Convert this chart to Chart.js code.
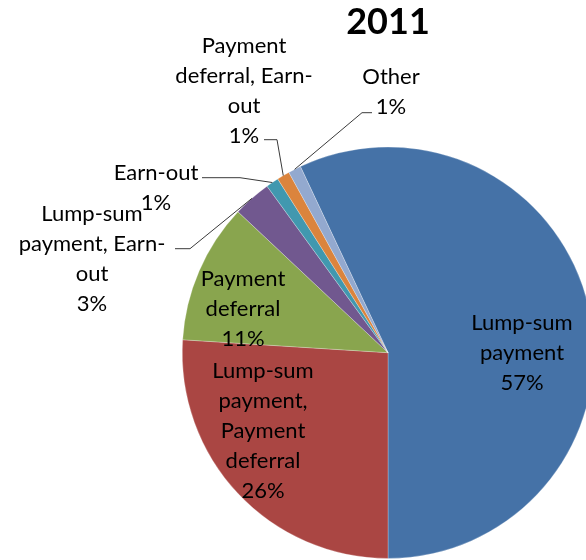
<!DOCTYPE html>
<html>
<head>
<meta charset="UTF-8">
<title>2011</title>
<script src="https://cdn.jsdelivr.net/npm/chart.js@4.4.0/dist/chart.umd.min.js"></script>
<style>
  body { margin: 0; overflow: hidden; background: #fff; }
  #wrap { position: absolute; left: 0; top: 0; width: 600px; height: 560px; }
</style>
</head>
<body>
<div id="wrap"><canvas id="myChart"></canvas></div>

<script>
	// deal structure shares, 2011 (percent)
	var categories = ["Lump-sum payment", "Lump-sum payment, Payment deferral", "Payment deferral",
		"Lump-sum payment, Earn-out", "Earn-out", "Payment deferral, Earn-out", "Other"];
	var shares = [57, 26, 11, 3, 1, 1, 1];
	// how each category name breaks over lines, the percent goes underneath
	var labelLines = [
		["Lump-sum", "payment"],
		["Lump-sum", "payment,", "Payment", "deferral"],
		["Payment", "deferral"],
		["Lump-sum", "payment, Earn-", "out"],
		["Earn-out"],
		["Payment", "deferral, Earn-", "out"],
		["Other"]
	];
	var sliceColors = ["#4572A7", "#AA4643", "#89A54E", "#71588F", "#4198AF", "#DB843D", "#93A9CF"];
</script>

<script>
	// label block centre relative to pie centre; small slices get a leader line
	// (x0 = where the line leaves the text, x1 = the bend, y = its height)
	var labelPos = [
		{dx: 134, dy: 0},
		{dx: -125, dy: 78},
		{dx: -145, dy: -44},
		{dx: -296, dy: -94, leader: {x0: -213, x1: -198, y: -104}},
		{dx: -232, dy: -165, leader: {x0: -186, x1: -148, y: -175}},
		{dx: -144, dy: -262, leader: {x0: -124, x1: -111, y: -213}},
		{dx: 3, dy: -261, leader: {x0: -16, x1: -26, y: -240}}
	];
	var lineH = 30;

	var sliceLabels = {
		id: 'sliceLabels',
		afterDatasetsDraw: function(chart) {
			var ctx = chart.ctx;
			var arcs = chart.getDatasetMeta(0).data;
			var total = shares.reduce(function(a, b) { return a + b; }, 0);
			ctx.save();
			ctx.font = '22px Lato';
			ctx.fillStyle = '#000';
			ctx.textAlign = 'center';
			ctx.textBaseline = 'middle';
			arcs.forEach(function(arc, i) {
				var cx = arc.x, cy = arc.y;
				var p = labelPos[i];
				var lines = labelLines[i].concat([Math.round(shares[i] / total * 100) + '%']);
				var top = cy + p.dy - (lines.length - 1) * lineH / 2;
				lines.forEach(function(t, k) {
					ctx.fillText(t, cx + p.dx, top + k * lineH);
				});
				if (p.leader) {
					var mid = (arc.startAngle + arc.endAngle) / 2;
					var ex = cx + Math.cos(mid) * arc.outerRadius;
					var ey = cy + Math.sin(mid) * arc.outerRadius;
					ctx.beginPath();
					ctx.strokeStyle = '#3a3a3a';
					ctx.lineWidth = 1;
					ctx.moveTo(cx + p.leader.x0, cy + p.leader.y);
					ctx.lineTo(cx + p.leader.x1, cy + p.leader.y);
					ctx.lineTo(ex, ey);
					ctx.stroke();
				}
			});
			ctx.restore();
		}
	};

	var total = shares.reduce(function(a, b) { return a + b; }, 0);

	new Chart("myChart", {
		type: "pie",
		data: {
			labels: categories,
			datasets: [{
				data: shares,
				backgroundColor: sliceColors,
				borderColor: "rgba(255,255,255,0.5)",
				borderWidth: 0.5
			}]
		},
		options: {
			responsive: true,
			maintainAspectRatio: false,
			animation: false,
			// first slice ends straight down
			rotation: 180 - shares[0] / total * 360,
			layout: { padding: { left: 182, right: 6, top: 0, bottom: 0.8 } },
			plugins: {
				legend: { display: false },
				tooltip: { enabled: false },
				title: {
					display: true,
					fullSize: false,
					text: "2011",
					color: "#000",
					font: { family: "Lato", size: 36, weight: "bold" },
					padding: { top: 1, bottom: 102 }
				}
			}
		},
		plugins: [sliceLabels]
	});
</script>
</body>
</html>
